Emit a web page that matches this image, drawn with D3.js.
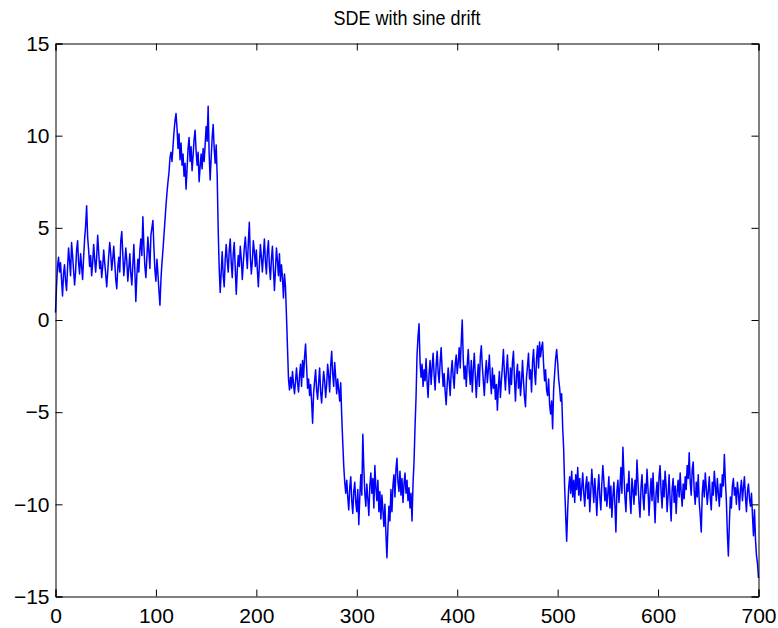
<!DOCTYPE html>
<html>
<head>
<meta charset="utf-8">
<script src="https://cdn.jsdelivr.net/npm/d3@7"></script>
<style>
  html, body { margin: 0; padding: 0; background: #fff; }
  svg { display: block; }
  text { font-family: "Liberation Sans", Arial, Helvetica, sans-serif; fill: #000; }
</style>
</head>
<body>
<div id="chart"></div>
<script>
// ---- data ----
const title = "SDE with sine drift";
const xTicks = [0, 100, 200, 300, 400, 500, 600, 700];
const yTicks = [-15, -10, -5, 0, 5, 10, 15];
const xDomain = [0, 700];
const yDomain = [-15, 15];
// path values at t = 0,1,2,...,700
const pathValues = [
  0.4, 1.8, 2.9, 3.4, 2.6, 3.1, 2.2, 1.3, 2.5, 3.0,
  2.1, 1.6, 2.8, 3.9, 3.2, 2.4, 4.2, 3.5, 2.7, 1.9,
  2.6, 3.8, 4.3, 3.1, 2.5, 3.6, 2.9, 2.2, 3.4, 4.4,
  5.1, 6.2, 4.5, 3.8, 2.9, 3.5, 2.4, 3.1, 4.1, 3.3,
  2.6, 3.4, 4.6, 3.7, 2.8, 3.2, 2.3, 2.9, 3.8, 3.1,
  2.5, 1.8, 2.6, 3.5, 4.2, 3.6, 2.7, 3.3, 4.0, 3.1,
  2.2, 1.7, 2.8, 3.4, 2.6, 4.3, 4.8, 3.6, 2.4, 3.1,
  3.9, 3.2, 2.1, 2.8, 3.6, 2.5, 1.9, 3.0, 4.1, 2.7,
  1.0, 2.4, 3.3, 2.6, 3.8, 4.4, 3.5, 5.6, 4.0, 2.9,
  2.3, 3.4, 4.5, 3.7, 2.8, 4.6, 5.0, 5.4, 3.9, 2.7,
  2.1, 3.3, 2.5, 1.6, 0.8, 2.2, 3.1, 3.8, 4.6, 5.4,
  6.2, 6.9, 7.5, 8.0, 8.8, 9.1, 8.6, 9.4, 10.2, 10.8,
  11.2, 10.4, 9.3, 10.1, 8.7, 9.6, 8.4, 9.0, 7.8, 8.5,
  7.1, 8.2, 9.3, 9.9, 8.6, 9.4, 8.1, 8.9, 9.8, 10.3,
  9.2, 8.4, 9.1, 7.5, 8.3, 9.0, 8.2, 9.3, 8.6, 9.5,
  10.5, 9.7, 11.6, 9.0, 7.6, 8.8, 9.9, 10.6, 9.3, 8.5,
  9.5, 7.8, 4.9, 2.8, 1.5, 2.6, 3.7, 2.4, 1.8, 3.3,
  4.1, 3.2, 2.6, 3.8, 4.4, 3.1, 2.3, 3.6, 4.2, 2.8,
  1.4, 2.7, 3.5, 2.9, 4.0, 3.3, 2.2, 3.1, 3.9, 4.5,
  3.6, 2.8, 4.2, 5.3, 3.4, 2.5, 3.2, 4.3, 3.7, 2.9,
  3.8, 2.7, 1.8, 3.0, 4.1, 3.4, 2.6, 3.5, 4.4, 3.2,
  2.5, 3.7, 4.3, 2.9, 2.2, 3.3, 4.0, 2.8, 1.6, 2.7,
  3.9, 3.2, 2.4, 3.6, 2.1, 3.0, 2.3, 1.2, 2.5, 1.8,
  0.2, -1.5, -3.2, -3.8, -3.1, -3.7, -2.8, -3.5, -4.0, -3.3,
  -2.6, -3.4, -3.9, -3.0, -2.4, -3.6, -2.2, -3.1, -2.0, -1.3,
  -2.5, -3.7, -3.2, -4.1, -3.5, -4.4, -5.6, -4.0, -3.3, -2.7,
  -3.8, -4.3, -3.4, -2.6, -3.9, -4.5, -3.6, -2.8, -3.3, -4.2,
  -3.5, -2.4, -3.0, -3.9, -2.5, -1.7, -2.9, -3.6, -2.3, -3.1,
  -4.0, -3.2, -3.8, -4.4, -3.4, -5.2, -6.6, -7.9, -8.8, -9.4,
  -8.7, -9.6, -10.3, -9.1, -8.5, -9.8, -10.5, -9.3, -8.8, -9.9,
  -10.4, -9.2, -11.1, -9.6, -8.4, -9.5, -6.2, -8.0, -9.4, -10.1,
  -8.9, -9.7, -10.6, -9.0, -8.3, -9.4, -8.6, -10.2, -7.9, -9.1,
  -9.8, -8.7, -10.4, -9.3, -10.8, -9.5, -10.3, -11.2, -10.0, -11.6,
  -12.9, -11.3, -10.1, -10.9, -9.2, -10.4, -9.0, -8.4, -9.6, -8.1,
  -7.5, -8.8, -9.3, -8.2, -9.5, -8.6, -9.9, -8.9, -8.3, -9.4,
  -8.7, -9.8, -9.1, -10.2, -9.4, -10.9, -8.9, -7.7, -5.8, -4.2,
  -1.9, -0.9, -0.2, -2.3, -3.1, -2.4, -3.6, -2.7, -3.3, -2.1,
  -3.4, -4.2, -2.9, -2.2, -3.5, -2.6, -1.8, -3.0, -3.8, -2.5,
  -1.7, -2.8, -3.4, -2.3, -1.5, -2.7, -3.6, -2.9, -3.9, -4.6,
  -3.5, -2.6, -3.3, -4.1, -2.8, -2.2, -3.1, -3.7, -2.4, -1.9,
  -2.9, -2.3, -1.5, -2.6, -1.2, 0.0, -2.1, -3.2, -2.5, -3.6,
  -2.4, -1.6, -2.8, -3.5, -2.2, -3.9, -2.7, -1.8, -3.0, -4.2,
  -3.1, -2.4, -3.6, -2.0, -1.4, -2.5, -3.3, -4.1, -2.9, -2.2,
  -3.4, -2.7, -1.9, -3.2, -4.0, -2.6, -3.7, -3.0, -4.3, -3.5,
  -4.9, -3.6, -2.8, -4.2, -3.3, -2.5, -1.6, -2.9, -3.8, -2.7,
  -1.9, -3.1, -4.0, -2.6, -3.5, -2.3, -1.7, -3.2, -4.4, -3.0,
  -2.4, -3.7, -2.8, -4.1, -3.4, -2.2, -3.3, -4.2, -4.7, -3.1,
  -2.5, -1.8, -3.2, -2.7, -3.9, -2.3, -1.6, -2.8, -3.5, -2.1,
  -1.4, -2.6, -1.2, -2.0, -1.5, -1.2, -2.4, -3.3, -2.7, -3.8,
  -4.1, -3.2, -4.6, -5.1, -4.4, -5.9, -3.8, -2.9, -2.1, -1.6,
  -2.3, -3.2, -3.7, -4.4, -4.0, -5.8, -7.0, -9.1, -10.6, -12.0,
  -10.3, -9.1, -8.5, -9.4, -8.2, -9.6, -8.7, -9.9, -8.4, -9.2,
  -8.0, -9.5, -8.6, -9.8, -9.1, -8.3, -9.4, -10.1, -9.0, -8.5,
  -9.7, -8.8, -10.4, -9.3, -8.1, -9.0, -9.9, -8.6, -9.5, -10.6,
  -9.2, -8.4, -9.6, -10.3, -8.9, -7.9, -8.7, -9.8, -9.1, -10.1,
  -9.4, -8.5, -10.2, -9.0, -10.7, -9.6, -8.8, -10.0, -11.5, -9.3,
  -8.7, -9.9, -9.1, -8.0, -9.4, -6.9, -8.4, -9.6, -10.4, -8.9,
  -9.3, -8.2, -9.7, -10.5, -8.6, -9.2, -10.0, -8.7, -9.5, -7.6,
  -8.8, -9.9, -10.7, -9.1, -8.4, -9.6, -10.3, -8.9, -9.4, -8.1,
  -9.2, -10.6, -9.5, -8.6, -9.8, -8.3, -9.7, -11.0, -9.4, -8.8,
  -9.9, -8.5, -7.9, -9.3, -10.2, -8.7, -9.6, -8.2, -9.0, -10.4,
  -9.5, -8.4, -9.8, -10.9, -9.2, -8.6, -9.9, -9.0, -10.5, -9.3,
  -8.7, -9.6, -8.3, -9.4, -10.1, -8.9, -9.7, -8.5, -9.2, -7.9,
  -8.6, -7.2, -8.8, -9.5, -8.1, -7.7, -9.3, -10.0, -8.8, -9.6,
  -8.4, -9.9, -10.6, -11.5, -9.4, -8.7, -9.6, -8.3, -9.1, -10.0,
  -9.3, -8.5, -9.7, -10.3, -8.8, -9.5, -8.2, -9.0, -9.8, -8.6,
  -9.4, -10.1, -8.9, -9.6, -8.4, -9.0, -7.3, -8.7, -9.8, -11.6,
  -12.8, -11.0, -9.6, -10.2, -9.0, -8.6, -9.5, -9.1, -10.0, -8.8,
  -9.4, -10.3, -9.2, -8.7, -9.8, -9.1, -8.5, -9.6, -10.4, -9.3,
  -8.9, -9.7, -10.1, -9.4, -10.6, -11.7, -10.3, -11.9, -12.8, -13.2,
  -14.0
];

// ---- layout ----
const W = 778, H = 628;
const plot = { left: 55.5, right: 758.5, top: 43.5, bottom: 596.5 };
const tickFont = 21;
const tickLen = 7;

const svg = d3.select("#chart").append("svg")
  .attr("width", W).attr("height", H);

const x = d3.scaleLinear().domain(xDomain).range([plot.left, plot.right]);
const y = d3.scaleLinear().domain(yDomain).range([plot.bottom, plot.top]);

// line
const line = d3.line()
  .x((d, i) => x(i))
  .y(d => y(d));

svg.append("path")
  .datum(pathValues)
  .attr("d", line)
  .attr("fill", "none")
  .attr("stroke", "#0000ff")
  .attr("stroke-width", 1.5)
  .attr("stroke-linejoin", "round");

// axes (MATLAB style: ticks inside, on all sides)
const axFont = g => g.selectAll("text")
  .style("font-size", tickFont + "px")
  .style("font-family", '"Liberation Sans", Arial, sans-serif')
  .attr("fill", "#000");

const xBottom = svg.append("g")
  .attr("transform", `translate(0,${plot.bottom})`)
  .call(d3.axisBottom(x).tickValues(xTicks).tickSize(-tickLen).tickPadding(11.5).tickFormat(d3.format("d")));
xBottom.call(axFont);

svg.append("g")
  .attr("transform", `translate(0,${plot.top})`)
  .call(d3.axisTop(x).tickValues(xTicks).tickSize(-tickLen).tickFormat(""));

const fmtY = d => (d < 0 ? "\u2212" + Math.abs(d) : String(d));
const yLeft = svg.append("g")
  .attr("transform", `translate(${plot.left},0)`)
  .call(d3.axisLeft(y).tickValues(yTicks).tickSize(-tickLen).tickPadding(6).tickFormat(fmtY));
yLeft.call(axFont);

svg.append("g")
  .attr("transform", `translate(${plot.right},0)`)
  .call(d3.axisRight(y).tickValues(yTicks).tickSize(-tickLen).tickFormat(""));

svg.selectAll(".domain").attr("stroke", "#000").attr("stroke-width", 1);
svg.selectAll(".tick line").attr("stroke", "#000").attr("stroke-width", 1);

// title (slightly taller than wide, like the reference raster)
svg.append("g")
  .attr("transform", `translate(${(plot.left + plot.right) / 2},25) scale(1,1.12)`)
  .append("text")
  .attr("x", 0)
  .attr("y", 0)
  .attr("text-anchor", "middle")
  .style("font-size", "18px")
  .text(title);
</script>
</body>
</html>
